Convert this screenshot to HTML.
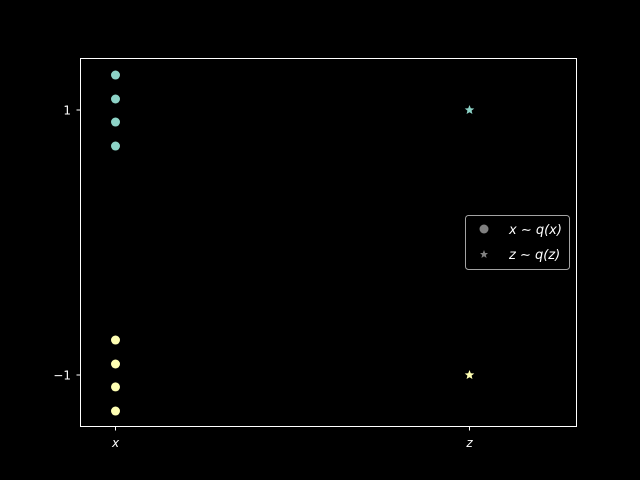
<!DOCTYPE html>
<html><head><meta charset="utf-8"><style>
body{margin:0;background:#000;}
svg{display:block;font-family:"DejaVu Sans","Liberation Sans",sans-serif;}
</style></head><body>
<svg id="chart" width="640" height="480" viewBox="0 0 640 480">
<rect width="640" height="480" fill="#000"/>
<g id="marks"></g>
<rect x="80.5" y="58.5" width="496" height="368" fill="none" stroke="#fff" stroke-width="1"/>
<g id="ticks"></g>
<g>
<rect x="465.5" y="215.5" width="104" height="54" rx="3" fill="#000" stroke="#ccc" stroke-opacity="0.8"/>
<circle cx="484" cy="229" r="4.5" fill="#808080"/>
<text x="509" y="234" fill="#fff" font-size="13" font-style="italic">x ∼ q(x)</text>
<polygon points="484,250 485.2,253 488,253 485.8,255 486.6,258 484,256.2 481.4,258 482.2,255 480,253 482.8,253" fill="#808080"/>
<text x="509" y="259" fill="#fff" font-size="13" font-style="italic">z ∼ q(z)</text>
</g>
</svg>
<script>
const categories = ["x", "z"];
const xTealValues = [1.264, 1.083, 0.909, 0.728];
const xYellowValues = [-0.736, -0.917, -1.09, -1.272];
const zValues = [1, -1];
const yTicks = [1, -1];
const yTickLabels = ["1", "\u22121"];
const colors = ["#8dd3c7", "#ffffb3"];
const NS = "http://www.w3.org/2000/svg";
const xPos = i => 115.5 + i * 354;
const yPos = v => 242.5 - v * 132.5;
const marks = document.getElementById("marks");
const ticks = document.getElementById("ticks");
function mk(tag, attrs, parent) {
  const e = document.createElementNS(NS, tag);
  for (const k in attrs) e.setAttribute(k, attrs[k]);
  parent.appendChild(e);
  return e;
}
[xTealValues, xYellowValues].forEach((arr, s) => {
  arr.forEach(v => {
    const c = mk("circle", {cx: xPos(0), cy: yPos(v), r: 4.5, fill: colors[s]}, marks);
    
    
  });
});
zValues.forEach((v, s) => {
  const cx = xPos(1), cy = yPos(v), pts = [];
  for (let k = 0; k < 10; k++) {
    const r = k % 2 ? 2.2 : 5, a = -Math.PI / 2 + k * Math.PI / 5;
    pts.push((cx + r * Math.cos(a)).toFixed(2) + "," + (cy + r * Math.sin(a)).toFixed(2));
  }
  const p = mk("polygon", {points: pts.join(" "), fill: colors[s]}, marks);
  
  
});
yTicks.forEach((v, i) => {
  const y = yPos(v);
  const l = mk("line", {x1: 76.5, x2: 80.5, y1: y, y2: y, stroke: "#fff"}, ticks);
  
  
  const t = mk("text", {x: 71, y: y + 4.5, fill: "#fff", "font-size": 12, "text-anchor": "end"}, ticks);
  t.textContent = yTickLabels[i];
  
  
});
categories.forEach((c, i) => {
  const x = xPos(i);
  const l = mk("line", {x1: x, x2: x, y1: 426.5, y2: 430.5, stroke: "#fff"}, ticks);
  
  
  const t = mk("text", {x: x, y: 447, fill: "#fff", "font-size": 12, "font-style": "italic", "text-anchor": "middle"}, ticks);
  t.textContent = c;
  
  
});
</script>
</body></html>
